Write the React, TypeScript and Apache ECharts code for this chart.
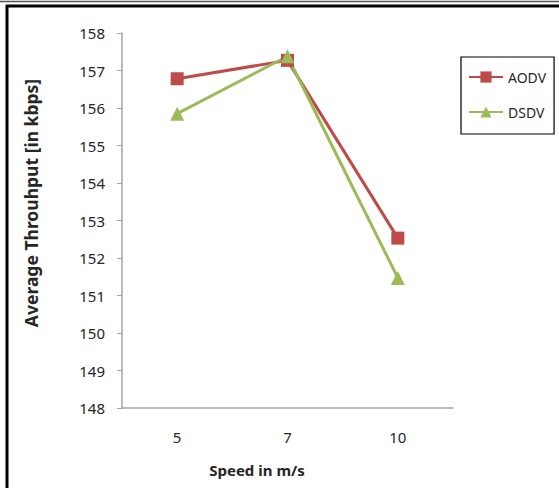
import React, { useEffect, useRef } from "react";
import * as echarts from "echarts";

const categories = ["5", "7", "10"];
const aodv = [156.78, 157.27, 152.53];
const dsdv = [155.85, 157.38, 151.47];
const yMin = 148;
const yMax = 158;
const xTitle = "Speed in m/s";
const yTitle = "Average Throuhput [in kbps]";

export default function App() {
  const ref = useRef<HTMLDivElement>(null);
  useEffect(() => {
    if (!ref.current) return;
    const chart = echarts.init(ref.current, undefined, { renderer: "svg" });
    const font = "Noto Sans";
    chart.setOption({
      animation: false,
      backgroundColor: "#ffffff",
      grid: { left: 122, top: 33, width: 331, height: 375 },
      xAxis: {
        type: "category",
        data: categories,
        boundaryGap: true,
        axisLine: { lineStyle: { color: "#a6a6a6", width: 1.5 } },
        axisTick: { show: false },
        axisLabel: { color: "#262626", fontFamily: font, fontSize: 15, margin: 21 },
      },
      yAxis: {
        type: "value",
        min: yMin,
        max: yMax,
        interval: 1,
        splitLine: { show: false },
        axisLine: { show: true, lineStyle: { color: "#a6a6a6", width: 1.5 } },
        axisTick: { show: true, length: 5, lineStyle: { color: "#a6a6a6" } },
        axisLabel: { color: "#262626", fontFamily: font, fontSize: 15, margin: 17 },
      },
      legend: {
        orient: "vertical",
        left: 461,
        top: 57,
        padding: [13, 8, 15, 7],
        itemGap: 21,
        itemWidth: 34,
        itemHeight: 14,
        borderColor: "#000000",
        borderWidth: 1.2,
        textStyle: { color: "#262626", fontFamily: font, fontSize: 14 },
        data: ["AODV", "DSDV"],
      },
      series: [
        {
          name: "AODV",
          type: "line",
          data: aodv,
          symbol: "rect",
          symbolSize: 13,
          lineStyle: { color: "#BE4B48", width: 3 },
          itemStyle: { color: "#BE4B48" },
        },
        {
          name: "DSDV",
          type: "line",
          data: dsdv,
          symbol: "triangle",
          symbolSize: 14,
          lineStyle: { color: "#9BBB59", width: 3 },
          itemStyle: { color: "#9BBB59" },
        },
      ],
      graphic: [
        { type: "line", shape: { x1: 0, y1: 1.5, x2: 559, y2: 1.5 }, style: { stroke: "#555555", lineWidth: 1.5 } },
        { type: "line", shape: { x1: 6, y1: 6, x2: 559, y2: 6 }, style: { stroke: "#000000", lineWidth: 3 } },
        { type: "line", shape: { x1: 7, y1: 5, x2: 7, y2: 488 }, style: { stroke: "#000000", lineWidth: 3 } },
        {
          type: "text",
          x: 257,
          y: 470,
          style: {
            text: xTitle,
            fill: "#262626",
            font: `bold 15px "${font}"`,
            textAlign: "center",
            textVerticalAlign: "middle",
          },
        },
        {
          type: "text",
          x: 31,
          y: 203,
          rotation: Math.PI / 2,
          style: {
            text: yTitle,
            fill: "#262626",
            font: `bold 17.5px "${font}"`,
            textAlign: "center",
            textVerticalAlign: "middle",
          },
        },
      ],
    });
    return () => chart.dispose();
  }, []);
  return (
    <div
      ref={ref}
      style={{ position: "fixed", left: 0, top: 0, width: 559, height: 488 }}
    />
  );
}
